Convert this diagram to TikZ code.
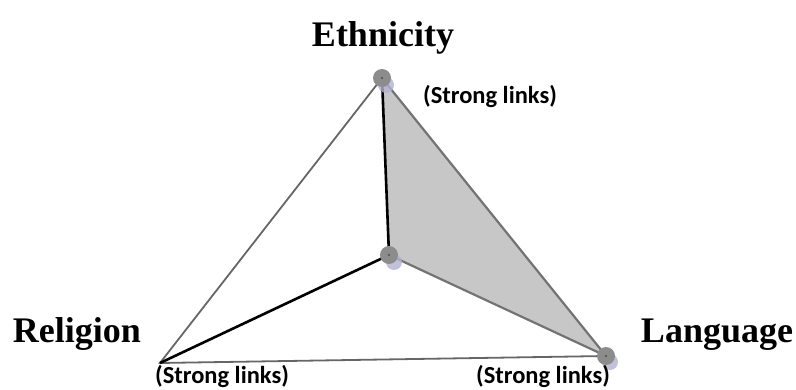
\documentclass[tikz,border=0pt]{standalone}
\usepackage{fontspec}
\setmainfont{Liberation Serif}
\newfontfamily\labfont{Carlito}
\begin{document}
\begin{tikzpicture}[x=1pt,y=-1pt,
  title/.style={font=\fontsize{36}{40}\selectfont\bfseries, inner sep=0pt, anchor=base},
  link/.style={font=\labfont\fontsize{24.5}{26}\selectfont\bfseries, inner sep=0pt, anchor=base},
  thin edge/.style={draw=black!60, line width=1.8pt},
  strong edge/.style={draw=black, line width=2.6pt},
  vert/.style={circle, fill=black!45, minimum size=18pt, inner sep=0pt},
  vshadow/.style={circle, fill=blue!40!black!30, minimum size=16pt, inner sep=0pt, opacity=0.8}
]
\useasboundingbox (0,0) rectangle (796,390);
\coordinate (E) at (382,78);
\coordinate (C) at (389,255);
\coordinate (R) at (160,363);
\coordinate (L) at (606,356);
% shaded triangle
\fill[black!22] (E) -- (C) -- (L) -- cycle;
\draw[draw=black!55, line width=2.2pt, line join=round] (E) -- (L) -- (C);
% outer edges
\draw[thin edge] (E) -- (R) -- (L);
% strong edges
\draw[strong edge] (E) -- (C) -- (R);
% vertices
\node[vshadow] (Es) at (386,85) {};
\node[vshadow] (Cs) at (394,262) {};
\node[vshadow] (Ls) at (610,362) {};
\node[vert] (Ev) at (E) {};
\node[vert] (Cv) at (C) {};
\node[vert] (Lv) at (L) {};
\fill[black!70] (Ev.center) circle (1.2pt);
\fill[black!70] (Cv.center) circle (1.2pt);
\fill[black!70] (Lv.center) circle (1.2pt);
% titles
\node[title] (eth) at (383,47) {Ethnicity};
\node[title] (rel) at (77,342) {Religion};
\node[title] (lang) at (717,342) {Language};
% labels
\node[link] (l1) at (490,104) {(Strong links)};
\node[link] (l2) at (222,384) {(Strong links)};
\node[link] (l3) at (543,384) {(Strong links)};
\end{tikzpicture}
\end{document}
